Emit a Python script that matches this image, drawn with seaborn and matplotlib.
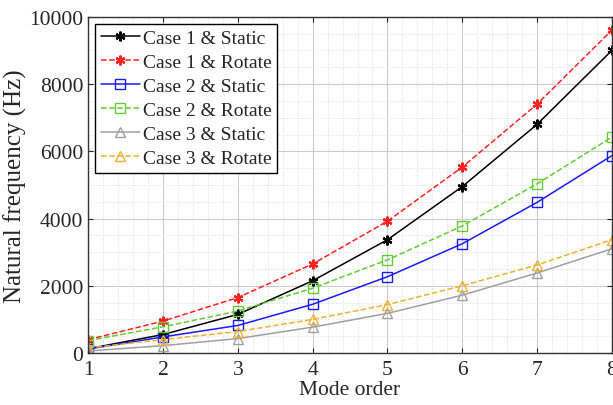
import pandas as pd
import seaborn as sns
import matplotlib.pyplot as plt
from matplotlib.ticker import MultipleLocator

# Данные: собственные частоты по номерам мод
modes = [1, 2, 3, 4, 5, 6, 7, 8]
case1_static = [130, 550, 1150, 2150, 3370, 4950, 6800, 9000]
case1_rotate = [400, 950, 1650, 2650, 3920, 5530, 7400, 9600]
case2_static = [120, 480, 820, 1450, 2270, 3250, 4480, 5870]
case2_rotate = [370, 780, 1250, 1930, 2770, 3780, 5030, 6420]
case3_static = [60, 220, 430, 770, 1180, 1720, 2380, 3100]
case3_rotate = [150, 400, 640, 1000, 1440, 2000, 2620, 3370]

names = ["Case 1 & Static", "Case 1 & Rotate", "Case 2 & Static",
         "Case 2 & Rotate", "Case 3 & Static", "Case 3 & Rotate"]
series = [case1_static, case1_rotate, case2_static,
          case2_rotate, case3_static, case3_rotate]

colors = ["black", "#ff2222", "#1a1aff", "#66cc33", "#a0a0a0", "#f0b030"]
markers = [(6, 2, 0), (6, 2, 0), "s", "s", "^", "^"]
styles = ["-", "--", "-", "--", "-", "--"]

sns.set_style("ticks")
plt.rcParams['font.family'] = ['Liberation Serif', 'DejaVu Serif']
plt.rcParams['mathtext.fontset'] = 'stix'

fig = plt.figure(figsize=(6.13, 4.06), dpi=100)
ax = fig.add_axes([0.144, 0.128, 0.854, 0.828])

for n, s, c, m, ls in zip(names, series, colors, markers, styles):
    d = pd.DataFrame({"mode": modes, "freq": s})
    sns.lineplot(data=d, x="mode", y="freq", color=c, linestyle=ls,
                 marker=m, markersize=7,
                 markerfacecolor="none", markeredgecolor=c,
                 markeredgewidth=1.6 if isinstance(m, tuple) else 1.0,
                 linewidth=1.1, label=n, ax=ax)

ax.set_xlim(1, 8)
ax.set_ylim(0, 10000)
ax.xaxis.set_major_locator(MultipleLocator(1))
ax.xaxis.set_minor_locator(MultipleLocator(0.2))
ax.yaxis.set_major_locator(MultipleLocator(2000))
ax.yaxis.set_minor_locator(MultipleLocator(500))
ax.grid(which="major", color="#cccccc", linewidth=0.8)
ax.grid(which="minor", color="#dddddd", linewidth=0.7, linestyle=":")
ax.set_axisbelow(True)
ax.tick_params(which="both", direction="in", top=True, right=True, labelsize=15.5)
ax.tick_params(axis="x", pad=5)
ax.tick_params(which="minor", length=0)
for sp in ax.spines.values():
    sp.set_linewidth(1.0)
    sp.set_color("#333333")

ax.set_xlabel("Mode order", fontsize=15.5, labelpad=1)
ax.set_ylabel("Natural frequency (Hz)", fontsize=18, labelpad=2)

leg = ax.legend(loc="upper left", fontsize=14, frameon=True, fancybox=False,
                edgecolor="black", framealpha=1, borderpad=0.3,
                labelspacing=0.33, handlelength=2.0, handletextpad=0.15,
                borderaxespad=0.35)
leg.get_frame().set_linewidth(1.0)

fig.savefig("out.png", dpi=100)
